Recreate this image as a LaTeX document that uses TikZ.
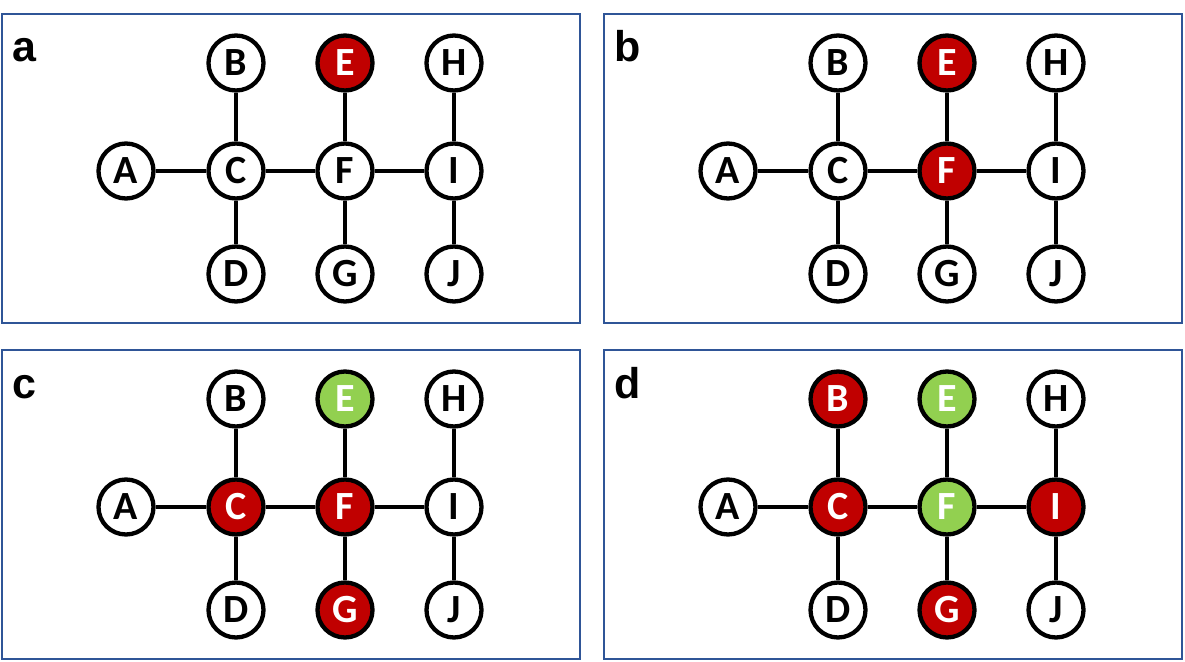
\documentclass[tikz,border=0pt]{standalone}
\usepackage{fontspec}
\setmainfont{Carlito}
\newfontfamily\labelfont{Liberation Sans}
\definecolor{nodered}{RGB}{192,0,0}
\definecolor{nodegreen}{RGB}{146,208,80}
\definecolor{frameblue}{RGB}{47,85,151}
\begin{document}
\begin{tikzpicture}[x=1pt, y=-1pt,
    vtx/.style={circle, draw, line width=4.3pt, fill=white, minimum size=55pt, inner sep=0pt,
      font=\fontsize{40}{40}\selectfont\bfseries},
    redvtx/.style={fill=nodered, text=white},
    greenvtx/.style={fill=nodegreen, text=white},
    edge/.style={line width=4.5pt},
    frame/.style={draw=frameblue, line width=2pt},
    panellabel/.style={anchor=base west, inner sep=0pt, font=\labelfont\fontsize{43}{43}\selectfont\bfseries}]
  \useasboundingbox (0,0) rectangle (1185,661);
  \foreach \p/\dx/\dy/\cols in {a/0/0/{nE/.style=redvtx},
      b/602/0/{nE/.style=redvtx, nF/.style=redvtx},
      c/0/336/{nC/.style=redvtx, nE/.style=greenvtx, nF/.style=redvtx, nG/.style=redvtx},
      d/602/336/{nB/.style=redvtx, nC/.style=redvtx, nE/.style=greenvtx, nF/.style=greenvtx, nG/.style=redvtx, nI/.style=redvtx}}{
    \tikzset{colouring/.style/.expanded={\cols}}
    \begin{scope}[shift={(\dx,\dy)}, colouring]
      \draw[frame] (2,14) rectangle (580,323);
      \node[panellabel] (\p-lab) at (12,62) {\p};
      \foreach \n/\x/\y in {A/126/171, B/236/63, C/236/171, D/236/274, E/345/63,
          F/345/171, G/345/274, H/454/63, I/454/171, J/454/274}
        \node[vtx, n\n/.try] (\p-\n) at (\x,\y) {\n};
      \foreach \u/\v in {A/C, B/C, C/D, C/F, E/F, F/G, F/I, H/I, I/J}
        \draw[edge] (\p-\u) -- (\p-\v);
    \end{scope}
  }
\end{tikzpicture}
\end{document}
